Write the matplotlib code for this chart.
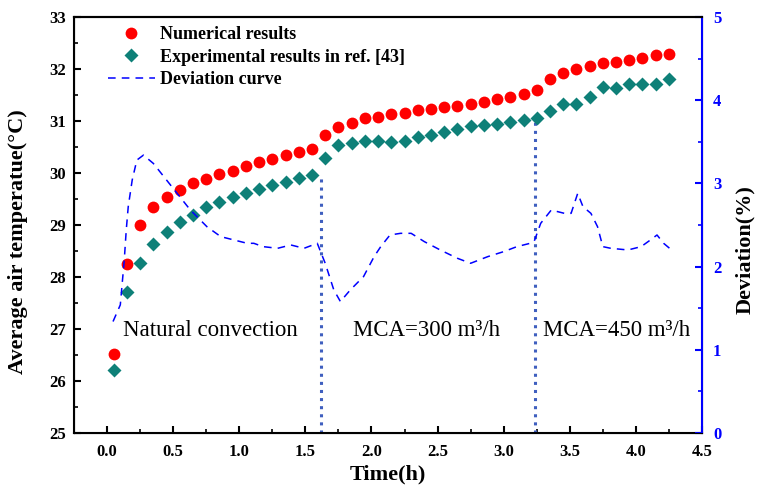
import matplotlib
matplotlib.use("Agg")
import matplotlib.pyplot as plt
from matplotlib.ticker import MultipleLocator
from matplotlib.lines import Line2D

plt.rcParams['font.family'] = ['Liberation Serif', 'DejaVu Serif']

# ---------------- data ----------------
time = [0.05, 0.15, 0.25, 0.35, 0.45, 0.55, 0.65, 0.75, 0.85, 0.95,
        1.05, 1.15, 1.25, 1.35, 1.45, 1.55, 1.65, 1.75, 1.85, 1.95,
        2.05, 2.15, 2.25, 2.35, 2.45, 2.55, 2.65, 2.75, 2.85, 2.95,
        3.05, 3.15, 3.25, 3.35, 3.45, 3.55, 3.65, 3.75, 3.85, 3.95,
        4.05, 4.15, 4.25]

numerical = [26.52, 28.25, 29.00, 29.34, 29.53, 29.67, 29.80, 29.88, 29.98, 30.04,
             30.14, 30.21, 30.27, 30.34, 30.40, 30.46, 30.73, 30.88, 30.97, 31.05,
             31.08, 31.13, 31.15, 31.21, 31.24, 31.26, 31.29, 31.33, 31.37, 31.42,
             31.46, 31.51, 31.60, 31.81, 31.93, 32.00, 32.06, 32.11, 32.13, 32.17,
             32.21, 32.26, 32.29]

experimental = [26.22, 27.71, 28.26, 28.63, 28.86, 29.05, 29.19, 29.34, 29.45, 29.54,
                29.62, 29.69, 29.77, 29.83, 29.90, 29.96, 30.28, 30.53, 30.57, 30.62,
                30.62, 30.60, 30.62, 30.70, 30.74, 30.78, 30.84, 30.90, 30.92, 30.94,
                30.99, 31.02, 31.05, 31.19, 31.33, 31.33, 31.47, 31.65, 31.63, 31.71,
                31.71, 31.71, 31.80]

dev_time = [0.045, 0.10, 0.13, 0.145, 0.16, 0.19, 0.225, 0.275, 0.35, 0.45,
            0.53, 0.63, 0.755, 0.86, 0.96, 1.06, 1.11, 1.18, 1.29, 1.39,
            1.49, 1.59, 1.65, 1.715, 1.765, 1.84, 1.94, 2.02, 2.07, 2.14,
            2.22, 2.30, 2.40, 2.52, 2.65, 2.75, 2.88, 3.00, 3.10, 3.20,
            3.23, 3.28, 3.36, 3.46, 3.51, 3.56, 3.60, 3.66, 3.71, 3.75,
            3.81, 3.94, 4.04, 4.11, 4.16, 4.21, 4.27]
deviation = [1.34, 1.54, 2.08, 2.44, 2.72, 3.04, 3.28, 3.34, 3.24, 3.04,
             2.88, 2.68, 2.48, 2.36, 2.32, 2.28, 2.28, 2.24, 2.22, 2.26,
             2.22, 2.28, 2.04, 1.72, 1.58, 1.72, 1.88, 2.12, 2.24, 2.38,
             2.40, 2.40, 2.30, 2.20, 2.10, 2.04, 2.12, 2.18, 2.24, 2.28,
             2.30, 2.52, 2.68, 2.64, 2.64, 2.88, 2.72, 2.64, 2.48, 2.24,
             2.22, 2.20, 2.24, 2.32, 2.38, 2.28, 2.20]

# switch times and top of the separators (temperature)
switch_t = [1.615, 3.235]
switch_top = [29.96, 31.05]

regions = ["Natural convection", "MCA=300 m\u00b3/h", "MCA=450 m\u00b3/h"]
region_x = [0.12, 1.86, 3.30]

# ---------------- plot ----------------
fig = plt.figure(figsize=(7.57, 4.93), dpi=100)
ax = fig.add_axes([0.0978, 0.1217, 0.8295, 0.8438])
ax2 = ax.twinx()

ax.plot(time, numerical, 'o', color='#ff0000', ms=8.5, mec='none', zorder=3)
ax.plot(time, experimental, 'D', color='#0e8078', ms=7.5, mec='none', zorder=3)
ax2.plot(dev_time, deviation, '--', color='#0000ff', lw=1.1, dashes=(5, 4))

for t, top in zip(switch_t, switch_top):
    ax.plot([t, t], [25, top], ':', color='#3f5fbf', lw=2.2)

for x, s in zip(region_x, regions):
    ax.text(x, 26.98, s, fontsize=16.5, ha='left', va='center')

ax.set_xlim(-0.25, 4.5)
ax.set_ylim(25, 33)
ax2.set_ylim(0, 5)

ax.xaxis.set_major_locator(MultipleLocator(0.5))
ax.xaxis.set_minor_locator(MultipleLocator(0.25))
ax.yaxis.set_major_locator(MultipleLocator(1))
ax.yaxis.set_minor_locator(MultipleLocator(0.5))
ax2.yaxis.set_major_locator(MultipleLocator(1))
ax2.yaxis.set_minor_locator(MultipleLocator(0.5))

ax.tick_params(axis='both', which='major', direction='in', length=5, width=1.5, labelsize=12)
ax.tick_params(axis='both', which='minor', direction='in', length=3, width=1.2)
ax.tick_params(axis='x', which='major', pad=8)
ax.tick_params(axis='y', which='major', pad=6)
ax2.tick_params(axis='y', which='major', direction='in', length=5, width=1.5,
                colors='#0000ff', labelsize=12, pad=8)
ax2.tick_params(axis='y', which='minor', direction='in', length=3, width=1.2, colors='#0000ff')

ax.set_xticks([0, 0.5, 1, 1.5, 2, 2.5, 3, 3.5, 4, 4.5])
ax.set_xticklabels(["0.0", "0.5", "1.0", "1.5", "2.0", "2.5", "3.0", "3.5", "4.0", "4.5"])
for lab in ax.get_xticklabels() + ax.get_yticklabels() + ax2.get_yticklabels():
    lab.set_fontweight('bold')

for s in ['left', 'bottom', 'top']:
    ax.spines[s].set_linewidth(1.5)
ax2.spines['right'].set_color('#0000ff')
ax2.spines['right'].set_linewidth(1.5)
ax2.spines['top'].set_linewidth(1.5)

ax.set_xlabel("Time(h)", fontsize=16, fontweight='bold', labelpad=3)
ax.set_ylabel("Average air temperatue(\u00b0C)", fontsize=16, fontweight='bold')
ax.yaxis.set_label_coords(-0.073, 0.459)
ax2.set_ylabel("Deviation(%)", fontsize=16, fontweight='bold')
ax2.yaxis.set_label_coords(1.052, 0.44)

handles = [
    Line2D([], [], ls='none', marker='o', color='#ff0000', ms=8.5, mec='none'),
    Line2D([], [], ls='none', marker='D', color='#0e8078', ms=7.5, mec='none'),
    Line2D([], [], ls='--', color='#0000ff', lw=1.1, dashes=(5, 4)),
]
ax.legend(handles, ["Numerical results", "Experimental results in ref. [43]", "Deviation curve"],
          loc='upper left', bbox_to_anchor=(0.028, 1.017), frameon=False,
          prop={'weight': 'bold', 'size': 13}, handlelength=2.6, handletextpad=0.3,
          labelspacing=0.3)

fig.savefig("out.png", dpi=100)
